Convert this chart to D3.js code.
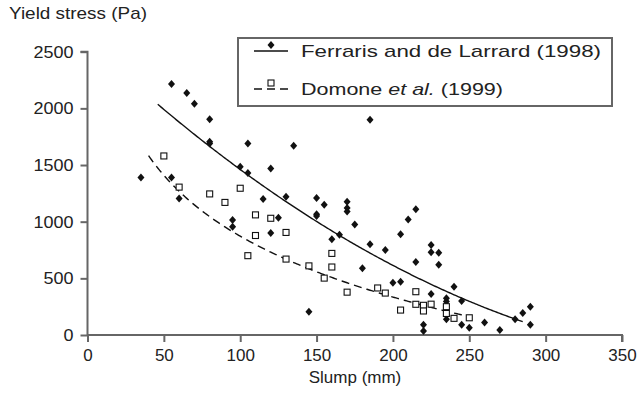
<!DOCTYPE html>
<html><head><meta charset="utf-8">
<script src="https://cdn.jsdelivr.net/npm/d3@7/dist/d3.min.js"></script>
<style>body{margin:0;background:#fff}svg text{font-family:"Liberation Sans",Arial,sans-serif;fill:#222}</style>
</head><body><svg id="c" width="643" height="394"></svg>
<script>
// Ferraris and de Larrard (1998): slump (mm), yield stress (Pa)
const ferrarisSlump = [35,55,65,70,80,80,80,55,60,95,95,100,105,105,115,120,120,125,130,135,145,150,150,150,155,160,165,170,170,170,175,180,185,185,195,200,205,205,210,215,215,220,220,225,225,225,230,230,235,235,235,240,245,245,250,260,270,280,285,290,290];
const ferrarisStress = [1390,2215,2135,2040,1905,1705,1690,1390,1205,1015,955,1485,1690,1430,1200,1470,900,1035,1220,1670,205,1210,1065,1050,1150,845,885,1175,1120,1090,975,590,1900,800,750,460,470,890,1020,1110,645,90,35,795,730,362,725,620,325,295,140,425,300,90,65,110,45,140,195,250,90];
// Domone et al. (1999)
const domoneSlump = [50,60,80,90,100,110,110,105,120,130,130,145,155,160,160,170,190,195,205,215,215,220,220,225,235,235,240,250];
const domoneStress = [1580,1305,1245,1170,1295,1060,878,700,1030,905,670,610,502,720,600,378,415,370,220,382,271,262,212,272,250,190,147,152];
// trend lines
const ferrarisTrend = [2591, -12.72, 0.01418]; // quadratic a + b x + c x^2
const ferrarisTrendRange = [46, 285];
const domoneTrend = [4441, -775];              // logarithmic a + b ln x
const domoneTrendRange = [40, 250];
const xTicks = [0,50,100,150,200,250,300,350];
const yTicks = [0,500,1000,1500,2000,2500];
const legendLabels = ["Ferraris and de Larrard (1998)", "Domone", "et al.", "(1999)"];

const svg = d3.select("#c");
const x = d3.scaleLinear().domain([0,350]).range([87.5,622]);
const y = d3.scaleLinear().domain([0,2500]).range([335,51.7]);
const axisCol = "#666";
const fs = 17;

// axes
const gx = svg.append("g").attr("transform","translate(0,335)")
  .call(d3.axisBottom(x).tickValues(xTicks).tickSize(7).tickPadding(7).tickFormat(d3.format("d")));
const gy = svg.append("g").attr("transform","translate(87.5,0)")
  .call(d3.axisLeft(y).tickValues(yTicks).tickSize(7).tickPadding(7).tickFormat(d3.format("d")));
[gx,gy].forEach(g=>{
  g.select(".domain").attr("stroke",axisCol).attr("stroke-width",2);
  g.selectAll(".tick line").attr("stroke",axisCol).attr("stroke-width",2);
  g.selectAll(".tick text").attr("font-size",fs).attr("fill","#222").attr("font-family","Liberation Sans, Arial, sans-serif");
});
gy.selectAll(".tick text").attr("textLength",function(){return this.textContent.length*10;}).attr("lengthAdjust","spacingAndGlyphs");
gy.select(".domain").attr("d",`M-7,${y(2500)}H0V${y(0)}`);
gx.select(".domain").attr("d",`M${x(0)},0H${x(350)}V7`);

svg.append("text").attr("x",9).attr("y",19).attr("font-size",fs)
  .attr("textLength",138).attr("lengthAdjust","spacingAndGlyphs").text("Yield stress (Pa)");
svg.append("text").attr("x",355).attr("y",383).attr("text-anchor","middle").attr("font-size",fs).text("Slump (mm)");

// trend lines
const fLine = d3.range(ferrarisTrendRange[0], ferrarisTrendRange[1]+0.5, 1)
  .map(v=>[v, ferrarisTrend[0]+ferrarisTrend[1]*v+ferrarisTrend[2]*v*v]);
const dLine = d3.range(domoneTrendRange[0], domoneTrendRange[1]+0.5, 1)
  .map(v=>[v, domoneTrend[0]+domoneTrend[1]*Math.log(v)]);
const line = d3.line().x(d=>x(d[0])).y(d=>y(d[1]));
svg.append("path").attr("d",line(fLine)).attr("fill","none").attr("stroke","#111").attr("stroke-width",1.4);
svg.append("path").attr("d",line(dLine)).attr("fill","none").attr("stroke","#111").attr("stroke-width",1.4).attr("stroke-dasharray","8,5");

// markers
const diamond = "M0,-4L3.5,0L0,4L-3.5,0Z";
svg.append("g").selectAll("path").data(d3.zip(ferrarisSlump,ferrarisStress)).join("path")
  .attr("transform",d=>`translate(${x(d[0])},${y(d[1])})`).attr("d",diamond).attr("fill","#111");
svg.append("g").selectAll("rect").data(d3.zip(domoneSlump,domoneStress)).join("rect")
  .attr("x",d=>x(d[0])-3).attr("y",d=>y(d[1])-3).attr("width",6).attr("height",6)
  .attr("fill","#fff").attr("stroke","#111").attr("stroke-width",1.1);

// legend
const lg = svg.append("g");
lg.append("rect").attr("x",238).attr("y",38).attr("width",374).attr("height",68)
  .attr("fill","#fff").attr("stroke",axisCol).attr("stroke-width",2);
lg.append("line").attr("x1",254).attr("x2",288).attr("y1",51).attr("y2",51).attr("stroke","#111").attr("stroke-width",1.4);
lg.append("path").attr("transform","translate(271,45)").attr("d",diamond).attr("fill","#111");
lg.append("text").attr("x",301).attr("y",57).attr("font-size",fs)
  .attr("textLength",300).attr("lengthAdjust","spacingAndGlyphs").text(legendLabels[0]);
lg.append("line").attr("x1",254).attr("x2",288).attr("y1",89).attr("y2",89).attr("stroke","#111").attr("stroke-width",1.4).attr("stroke-dasharray","8,5");
lg.append("rect").attr("x",268).attr("y",80).attr("width",6).attr("height",6).attr("fill","#fff").attr("stroke","#111").attr("stroke-width",1.1);
const t2 = lg.append("text").attr("x",301).attr("y",95).attr("font-size",fs)
  .attr("textLength",202).attr("lengthAdjust","spacingAndGlyphs");
t2.append("tspan").text(legendLabels[1]+" ");
t2.append("tspan").attr("font-style","italic").text(legendLabels[2]);
t2.append("tspan").text(" "+legendLabels[3]);
</script></body></html>
